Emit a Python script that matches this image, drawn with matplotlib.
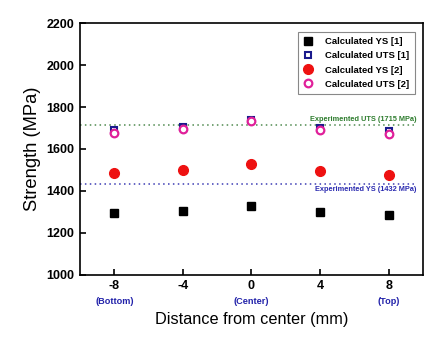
import matplotlib
matplotlib.use("Agg")
import matplotlib.pyplot as plt

# Data
positions = [-8, -4, 0, 4, 8]
pos_notes = ["(Bottom)", "", "(Center)", "", "(Top)"]
ys_calc1 = [1294, 1305, 1330, 1301, 1286]
uts_calc1 = [1692, 1705, 1738, 1700, 1686]
ys_calc2 = [1486, 1500, 1530, 1495, 1476]
uts_calc2 = [1678, 1697, 1733, 1692, 1672]
exp_uts = 1715
exp_ys = 1432

plt.rcParams['font.family'] = ['Liberation Sans', 'DejaVu Sans']

fig = plt.figure(figsize=(4.47, 3.39), dpi=100)
ax = fig.add_axes([0.179, 0.189, 0.767, 0.743])

# experimental reference lines
ax.axhline(exp_uts, xmin=0, xmax=0.98, color='#4f8a4f', ls=(0, (1, 2.2)), lw=1.1, zorder=1)
ax.axhline(exp_ys, xmin=0, xmax=0.98, color='#3c3cb4', ls=(0, (1, 2.2)), lw=1.1, zorder=1)
ax.text(9.6, exp_uts + 8, "Experimented UTS (1715 MPa)", color='#2e7d2e',
        fontsize=5.3, fontweight='bold', ha='right', va='bottom')
ax.text(9.6, exp_ys - 10, "Experimented YS (1432 MPa)", color='#2a2ab0',
        fontsize=5.3, fontweight='bold', ha='right', va='top')

ax.plot(positions, ys_calc1, ls='none', marker='s', ms=6, color='black',
        label='Calculated YS [1]', zorder=3)
ax.plot(positions, uts_calc1, ls='none', marker='s', ms=5, mfc='white',
        mec='#1a1a8c', mew=1.5, label='Calculated UTS [1]', zorder=3)
ax.plot(positions, ys_calc2, ls='none', marker='o', ms=7, color='#ee1111',
        label='Calculated YS [2]', zorder=3)
ax.plot(positions, uts_calc2, ls='none', marker='o', ms=5.5, mfc='white',
        mec='#e0209a', mew=1.6, label='Calculated UTS [2]', zorder=4)

ax.set_xlim(-10, 10)
ax.set_ylim(1000, 2200)
ax.set_xticks(positions)
ax.set_xticklabels([str(p) for p in positions])
ax.set_yticks(range(1000, 2201, 200))
ax.tick_params(direction='in', length=4, width=1.2, labelsize=9, pad=4)
for lbl in ax.get_xticklabels() + ax.get_yticklabels():
    lbl.set_fontweight('bold')
for sp in ax.spines.values():
    sp.set_linewidth(1.2)

for p, note in zip(positions, pos_notes):
    if note:
        ax.text(p, -0.105, note, transform=ax.get_xaxis_transform(), ha='center',
                va='center', color='#2222aa', fontsize=6.6, fontweight='bold')

ax.set_xlabel("Distance from center (mm)", fontsize=11.7, labelpad=14)
ax.set_ylabel("Strength (MPa)", fontsize=13.2, labelpad=4)

leg = ax.legend(loc='upper right', bbox_to_anchor=(0.99, 0.985),
                prop={'weight': 'bold', 'size': 6.8}, fancybox=False, edgecolor='#888888',
                handletextpad=1.3, labelspacing=0.55, borderpad=0.6, handlelength=1.0,
                framealpha=1)
leg.get_frame().set_linewidth(0.8)

fig.savefig("out.png", dpi=100)
